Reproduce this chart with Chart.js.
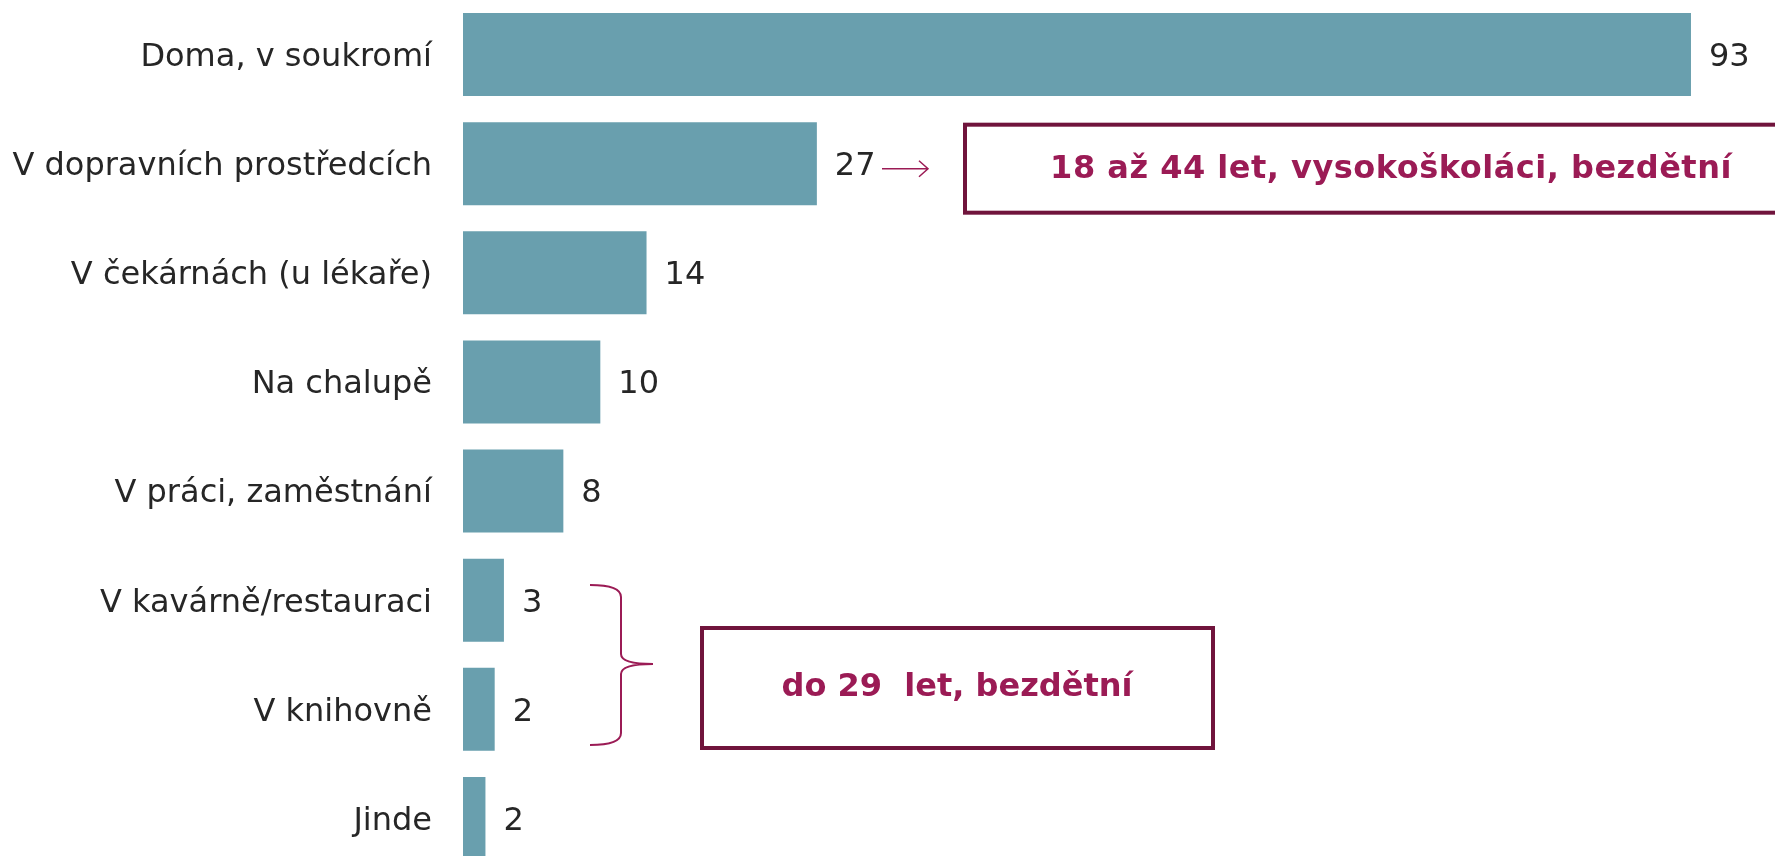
<!DOCTYPE html>
<html>
<head>
<meta charset="utf-8">
<script src="https://cdn.jsdelivr.net/npm/chart.js@4/dist/chart.umd.min.js"></script>
<style>
    html, body { margin: 0; padding: 0; background: #fff; overflow: hidden; }
    #wrap { width: 1775px; height: 856px; overflow: hidden; }
</style>
</head>
<body>
<div id="wrap">
    <canvas id="chart" width="1775" height="873"></canvas>
</div>
<script>
// Data
const categories = [
    'Doma, v soukromí',
    'V dopravních prostředcích',
    'V čekárnách (u lékaře)',
    'Na chalupě',
    'V práci, zaměstnání',
    'V kavárně/restauraci',
    'V knihovně',
    'Jinde'
];
// bar lengths (labels show them rounded)
const values = [93, 26.8, 13.9, 10.4, 7.6, 3.1, 2.4, 1.7];
const valueLabelsText = ['93', '27', '14', '10', '8', '3', '2', '2'];

const noteTop = '18 až 44 let, vysokoškoláci, bezdětní';
const noteBottom = 'do 29  let, bezdětní';

const BAR_COLOR = '#699FAE';
const TEXT_COLOR = '#262626';
const BOX_COLOR = '#70143C';
const NOTE_COLOR = '#9B1B55';
const FONT = '"DejaVu Sans", Verdana, sans-serif';

// value labels at the end of each bar
const valueLabels = {
    id: 'valueLabels',
    afterDatasetsDraw(chart) {
        const ctx = chart.ctx;
        const meta = chart.getDatasetMeta(0);
        ctx.save();
        ctx.font = '32px ' + FONT;
        ctx.fillStyle = TEXT_COLOR;
        ctx.textAlign = 'left';
        ctx.textBaseline = 'middle';
        meta.data.forEach((bar, i) => {
            ctx.fillText(valueLabelsText[i], bar.x + 18, bar.y + 3);
        });
        ctx.restore();
    }
};

// boxes, arrow and brace
const notes = {
    id: 'notes',
    afterDraw(chart) {
        const ctx = chart.ctx;
        const y = chart.scales.y;
        const yc1 = y.getPixelForValue(1);
        ctx.save();

        // arrow next to the second bar
        const ay = yc1 + 5;
        ctx.strokeStyle = NOTE_COLOR;
        ctx.lineWidth = 1.5;
        ctx.beginPath();
        ctx.moveTo(882, ay);
        ctx.lineTo(928, ay);
        ctx.moveTo(919, ay - 8);
        ctx.lineTo(928, ay);
        ctx.lineTo(919, ay + 8);
        ctx.stroke();

        // top box
        ctx.strokeStyle = BOX_COLOR;
        ctx.lineWidth = 4;
        ctx.strokeRect(965, yc1 - 39, 850, 88);
        ctx.font = 'bold 32px ' + FONT;
        ctx.letterSpacing = '0.5px';
        ctx.fillStyle = NOTE_COLOR;
        ctx.textAlign = 'center';
        ctx.textBaseline = 'middle';
        ctx.fillText(noteTop, 1391, yc1 + 6);
        ctx.letterSpacing = '0px';

        // brace over the 6th and 7th bar
        ctx.strokeStyle = NOTE_COLOR;
        ctx.lineWidth = 2;
        ctx.beginPath();
        ctx.moveTo(590, 585);
        ctx.quadraticCurveTo(621, 585, 621, 597);
        ctx.lineTo(621, 654);
        ctx.quadraticCurveTo(621, 664, 653, 664);
        ctx.quadraticCurveTo(621, 664, 621, 674);
        ctx.lineTo(621, 733);
        ctx.quadraticCurveTo(621, 745, 590, 745);
        ctx.stroke();

        // bottom box
        ctx.strokeStyle = BOX_COLOR;
        ctx.lineWidth = 4;
        ctx.strokeRect(702, 628, 511, 120);
        ctx.font = 'bold 32px ' + FONT;
        ctx.fillStyle = NOTE_COLOR;
        ctx.fillText(noteBottom, 957, 688);

        ctx.restore();
    }
};

new Chart(document.getElementById('chart'), {
    type: 'bar',
    data: {
        labels: categories,
        datasets: [{
            data: values,
            backgroundColor: BAR_COLOR,
            borderWidth: 0,
            barPercentage: 0.76,
            categoryPercentage: 1
        }]
    },
    options: {
        indexAxis: 'y',
        responsive: false,
        animation: false,
        layout: { padding: { left: 0, right: 18, top: 0, bottom: 0 } },
        plugins: {
            legend: { display: false },
            tooltip: { enabled: false }
        },
        scales: {
            x: {
                display: false,
                min: 0,
                max: 98
            },
            y: {
                grid: { display: false },
                border: { display: false },
                ticks: {
                    color: TEXT_COLOR,
                    font: { family: FONT, size: 32 },
                    padding: 23,
                    labelOffset: 3
                },
                afterFit(scale) {
                    scale.width = 463;
                    // tick padding should not push the plot down
                    scale.paddingTop = 0;
                    scale.paddingBottom = 0;
                }
            }
        }
    },
    plugins: [valueLabels, notes]
});
</script>
</body>
</html>
